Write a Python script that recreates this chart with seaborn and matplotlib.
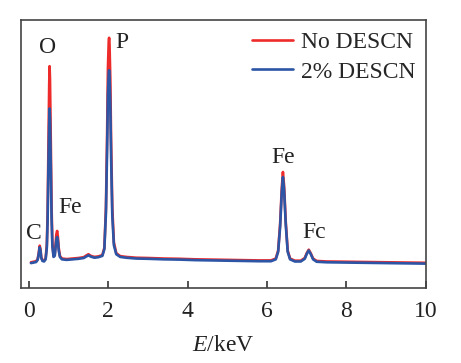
import matplotlib
matplotlib.use('Agg')
import matplotlib.pyplot as plt
import pandas as pd
import seaborn as sns

# EDS spectrum (energy in keV, intensity in arbitrary units)
energy = [0.05, 0.12, 0.18, 0.22, 0.25, 0.27, 0.29, 0.31, 0.34, 0.38,
          0.42, 0.45, 0.47, 0.49, 0.51, 0.52, 0.53, 0.55, 0.57, 0.59,
          0.62, 0.65, 0.67, 0.69, 0.71, 0.73, 0.75, 0.78, 0.83, 0.95,
          1.10, 1.25, 1.38, 1.45, 1.50, 1.56, 1.65, 1.75, 1.85, 1.90,
          1.94, 1.97, 1.99, 2.01, 2.02, 2.03, 2.05, 2.07, 2.10, 2.14,
          2.20, 2.30, 2.45, 2.70, 3.00, 3.40, 3.80, 4.20, 4.60, 5.00,
          5.40, 5.80, 6.10, 6.22, 6.28, 6.33, 6.37, 6.40, 6.43, 6.47,
          6.52, 6.58, 6.70, 6.85, 6.95, 7.00, 7.05, 7.10, 7.16, 7.25,
          7.50, 8.00, 8.50, 9.00, 9.50, 10.00]

no_descn = [9.6, 9.8, 10.0, 10.8, 13.5, 15.8, 14.5, 11.5, 10.4, 10.2,
            11.0, 16, 28, 52, 76, 82.8, 78, 55, 30, 17,
            12, 12.5, 16, 20, 21.3, 19, 15, 12, 11, 10.8,
            11.0, 11.2, 11.5, 12.2, 12.6, 12.0, 11.6, 11.8, 12.3, 15,
            30, 58, 82, 92, 93.4, 91, 78, 55, 30, 17,
            13, 11.9, 11.6, 11.3, 11.2, 11.0, 10.9, 10.7, 10.6, 10.5,
            10.4, 10.3, 10.3, 11.0, 14, 24, 37, 43.3, 38, 25,
            14, 11, 10.2, 10.2, 11.2, 13, 14.3, 13, 11, 10.1,
            9.9, 9.8, 9.7, 9.6, 9.5, 9.4]

descn_2 = [9.3, 9.5, 9.7, 10.5, 13.0, 15.2, 14.0, 11.2, 10.1, 9.9,
           10.7, 15, 25, 45, 62, 67, 63, 46, 26, 15.5,
           11.6, 12, 15, 18, 19, 17.5, 14, 11.6, 10.7, 10.5,
           10.7, 10.9, 11.2, 11.8, 12.2, 11.7, 11.3, 11.5, 12.0, 14.5,
           28, 52, 72, 80, 81.3, 79.5, 68, 49, 27, 16,
           12.6, 11.6, 11.3, 11.0, 10.9, 10.7, 10.6, 10.4, 10.3, 10.2,
           10.1, 10.0, 10.0, 10.7, 13.5, 23, 35.5, 41.4, 36.5, 24,
           13.5, 10.7, 9.9, 9.9, 10.9, 12.7, 14.0, 12.7, 10.7, 9.8,
           9.6, 9.5, 9.4, 9.3, 9.2, 9.1]

series_names = ['No DESCN', '2% DESCN']
series_colors = ['#ee2b2b', '#2c55a6']

# element labels and where they sit (keV, intensity)
peak_labels = ['C', 'O', 'Fe', 'P', 'Fe', 'Fc']
label_x = [0.12, 0.47, 1.05, 2.34, 6.40, 7.20]
label_y = [20.5, 89.6, 29.9, 91.8, 48.9, 20.9]

df = pd.concat([
    pd.DataFrame({'E': energy, 'I': no_descn, 'sample': series_names[0]}),
    pd.DataFrame({'E': energy, 'I': descn_2, 'sample': series_names[1]}),
])

sns.set_theme(style='ticks')
plt.rcParams['font.family'] = ['Liberation Serif', 'DejaVu Serif']
plt.rcParams['mathtext.fontset'] = 'custom'
plt.rcParams['mathtext.it'] = 'Liberation Serif:italic'
plt.rcParams['mathtext.rm'] = 'Liberation Serif'

fig = plt.figure(figsize=(4.61, 3.63), dpi=100)
ax = fig.add_axes([0.0456, 0.2066, 0.878, 0.738])

sns.lineplot(data=df, x='E', y='I', hue='sample', palette=series_colors,
             hue_order=series_names, linewidth=1.9, ax=ax, sort=False)

for lab, lx, ly in zip(peak_labels, label_x, label_y):
    ax.text(lx, ly, lab, fontsize=17, ha='center', va='center', color='#222222')

ax.set_xlim(-0.2, 10)
ax.set_ylim(0, 100)
ax.set_xticks([0, 2, 4, 6, 8, 10])
ax.set_yticks([])
ax.tick_params(axis='x', direction='in', length=5, width=1.2, labelsize=17,
               pad=9, colors='#333333', labelcolor='#222222')
ax.set_xlabel(r'$\it{E}$/keV', fontsize=17, color='#222222', labelpad=10)
ax.set_ylabel('')
for sp in ax.spines.values():
    sp.set_visible(True)
    sp.set_color('#444444')
    sp.set_linewidth(1.2)

ax.legend(frameon=False, loc='upper right', bbox_to_anchor=(1.015, 1.02),
          fontsize=17, handlelength=1.7, handletextpad=0.35, labelspacing=0.35,
          borderaxespad=0.3)

fig.savefig('out.png', dpi=100)
